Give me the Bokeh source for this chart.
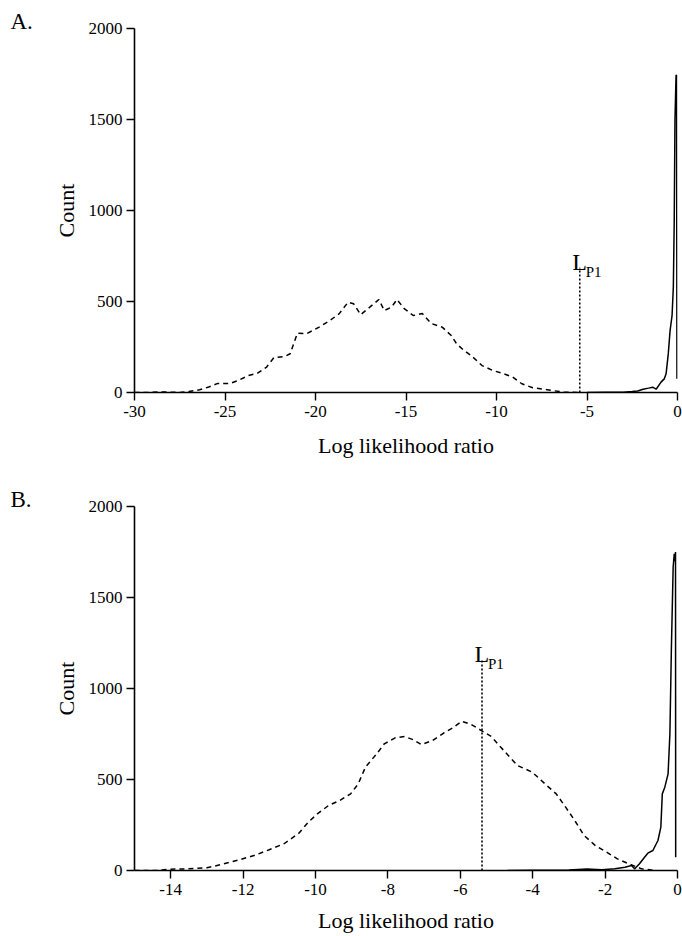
from bokeh.plotting import figure
from bokeh.layouts import column
from bokeh.models import Label, FixedTicker, Range1d
from bokeh.embed import file_html
from bokeh.resources import INLINE

FONT = "Liberation Serif"

# ---------------- data ----------------
# Panel A: dashed distribution
a_dash_x = [-30, -29.3, -28.5, -28.0, -27.5, -27.0, -26.4, -25.9, -25.4, -24.7, -24.3, -23.7,
            -23.2, -22.7, -22.3, -21.7, -21.4, -21.0, -20.5, -19.8, -19.2, -18.7, -18.2, -17.9,
            -17.5, -17.0, -16.5, -16.2, -15.8, -15.5, -15.1, -14.6, -14.1, -13.6, -13.0, -12.5,
            -12.2, -11.8, -11.4, -10.8, -10.2, -9.6, -9.1, -8.6, -8.0, -7.2, -6.3, -5.4]
a_dash_y = [0, 0, 3, 2, 0, 5, 15, 30, 50, 50, 65, 93,
            106, 140, 192, 198, 213, 326, 323, 359, 396, 432, 496, 488,
            428, 469, 511, 450, 469, 511, 461, 423, 434, 379, 359, 313,
            267, 231, 203, 148, 121, 103, 84, 48, 26, 15, 2, 0]
# Panel A: solid distribution
a_solid_x = [-5.0, -4.0, -3.0, -2.5, -2.2, -1.9, -1.6, -1.37, -1.18, -0.91, -0.73, -0.63,
             -0.51, -0.41, -0.30, -0.23, -0.18, -0.14, -0.08, -0.05, -0.03]
a_solid_y = [0, 1, 2, 5, 8, 18, 24, 29, 18, 57, 75, 103,
             212, 340, 423, 579, 945, 1495, 1742, 1745, 75]

# Panel B: dashed distribution
b_dash_x = [-15.0, -14.9, -14.35, -14.04, -13.5, -13.0, -12.6, -12.1, -11.7, -11.28, -10.87,
            -10.46, -10.2, -9.95, -9.64, -9.33, -9.03, -8.82, -8.62, -8.31, -8.1, -7.8, -7.54,
            -7.29, -7.08, -6.77, -6.47, -6.21, -5.96, -5.7, -5.45, -5.14, -4.88, -4.63, -4.42,
            -4.01, -3.66, -3.35, -3.09, -2.84, -2.58, -2.27, -1.96, -1.66, -1.35, -0.99, -0.63]
b_dash_y = [0, 0, 0, 7, 9, 15, 33, 59, 82, 114, 147,
            205, 265, 311, 357, 385, 421, 476, 568, 641, 696, 729, 736,
            718, 692, 714, 754, 784, 820, 802, 773, 736, 677, 622, 577,
            540, 476, 421, 348, 275, 192, 137, 101, 64, 37, 9, 0]
# Panel B: solid distribution
b_solid_x = [-4.7, -4.0, -3.0, -2.5, -2.09, -1.73, -1.45, -1.27, -1.18, -1.05, -0.91, -0.82,
             -0.68, -0.54, -0.46, -0.42, -0.35, -0.26, -0.21, -0.17, -0.12, -0.09, -0.07,
             -0.055, -0.05]
b_solid_y = [0, 1, 3, 8, 4, 9, 18, 27, 9, 37, 73, 95,
             110, 165, 238, 421, 458, 531, 751, 1209, 1666, 1740, 1700,
             1750, 73]

# L_P1 threshold marker
lp1_x = -5.4
a_lp1_top = 685
b_lp1_top = 1155

count_ticks = [0, 500, 1000, 1500, 2000]
a_xticks = [-30, -25, -20, -15, -10, -5, 0]
b_xticks = [-14, -12, -10, -8, -6, -4, -2, 0]
a_xrange = (-30, 0)
b_xrange = (-15, 0)
y_range = (0, 2000)


def make_panel(letter, xr, xticks, dx, dy, sx, sy, lp1_top, height, top, bottom,
               xlabel_standoff):
    p = figure(width=682, height=height,
               x_range=Range1d(*xr), y_range=Range1d(*y_range),
               output_backend="svg", toolbar_location=None,
               min_border_left=134, min_border_right=5,
               min_border_top=top, min_border_bottom=bottom)
    p.outline_line_color = None
    p.xgrid.visible = False
    p.ygrid.visible = False
    p.background_fill_color = "white"
    p.border_fill_color = "white"

    p.title.text = letter
    p.title.align = "left"
    p.title.offset = -124
    p.title.standoff = -10
    p.title.text_font = FONT
    p.title.text_font_size = "23px"
    p.title.text_font_style = "normal"
    p.title.text_color = "black"

    for ax in (p.xaxis[0], p.yaxis[0]):
        ax.axis_line_width = 1.6
        ax.axis_line_color = "black"
        ax.major_tick_line_width = 1.4
        ax.major_tick_line_color = "black"
        ax.major_tick_out = 8
        ax.major_tick_in = 0
        ax.minor_tick_line_color = None
        ax.major_label_text_font = FONT
        ax.major_label_text_font_size = "17px"
        ax.major_label_text_color = "black"
    p.xaxis.major_label_standoff = 5
    p.yaxis.major_label_standoff = 4

    p.xaxis.ticker = FixedTicker(ticks=xticks)
    p.xaxis.major_label_overrides = {t: str(t) for t in xticks}
    p.yaxis.ticker = FixedTicker(ticks=count_ticks)
    p.yaxis.major_label_overrides = {t: str(t) for t in count_ticks}

    p.yaxis.axis_label = "Count"
    p.yaxis.axis_label_text_font = FONT
    p.yaxis.axis_label_text_font_size = "22px"
    p.yaxis.axis_label_text_font_style = "normal"
    p.yaxis.axis_label_text_color = "black"
    p.yaxis.axis_label_standoff = 7

    p.xaxis.axis_label = "Log likelihood ratio"
    p.xaxis.axis_label_text_font = FONT
    p.xaxis.axis_label_text_font_size = "22px"
    p.xaxis.axis_label_text_font_style = "normal"
    p.xaxis.axis_label_text_color = "black"
    p.xaxis.axis_label_standoff = xlabel_standoff

    p.line(dx, dy, line_color="black", line_width=1.5, line_dash="5 4")
    p.line(sx, sy, line_color="black", line_width=1.5)
    p.segment(x0=[lp1_x], y0=[0], x1=[lp1_x], y1=[lp1_top],
              line_color="black", line_width=1.6, line_dash="2 2")

    p.add_layout(Label(x=lp1_x, y=lp1_top, text="L", x_offset=-7.5, y_offset=6,
                       text_font=FONT, text_font_size="24px", text_color="black",
                       text_baseline="alphabetic"))
    p.add_layout(Label(x=lp1_x, y=lp1_top, text="P1", x_offset=6, y_offset=-4,
                       text_font=FONT, text_font_size="15px", text_color="black",
                       text_baseline="alphabetic"))
    return p


pa = make_panel("A.", a_xrange, a_xticks, a_dash_x, a_dash_y, a_solid_x, a_solid_y,
                a_lp1_top, height=478, top=28, bottom=86, xlabel_standoff=13)
pb = make_panel("B.", b_xrange, b_xticks, b_dash_x, b_dash_y, b_solid_x, b_solid_y,
                b_lp1_top, height=458, top=28, bottom=66, xlabel_standoff=10)

layout = column(pa, pb, spacing=0)
open("out.html", "w").write(file_html(layout, INLINE))
